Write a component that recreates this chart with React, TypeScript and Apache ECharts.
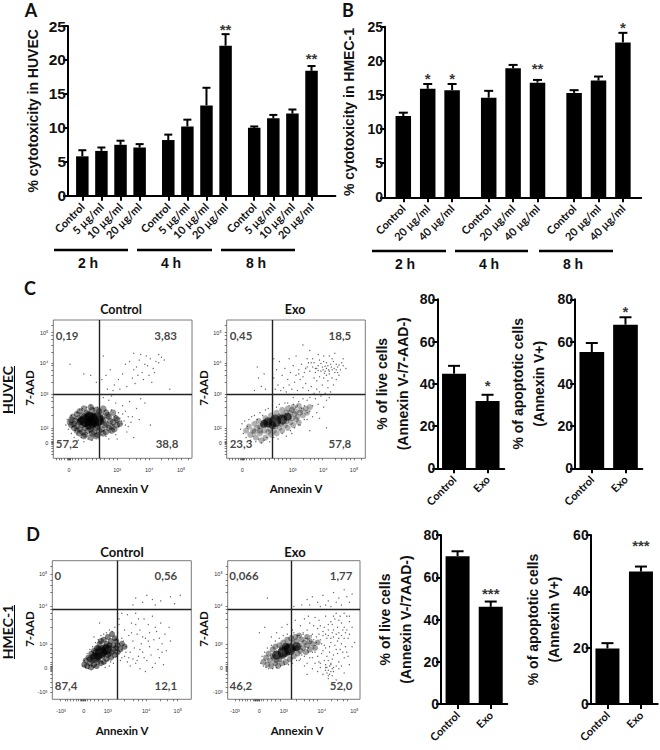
import React, { useEffect, useRef } from "react";
import * as echarts from "echarts";

const SANS = "Liberation Sans";
const CAL = "Lato";

// ---------- bar data ----------
const doseA = ["Control", "5 µg/ml", "10 µg/ml", "20 µg/ml"];
const doseB = ["Control", "20 µg/ml", "40 µg/ml"];
const pair = ["Control", "Exo"];
const hours = ["2 h", "4 h", "8 h"];

const meansA = [5.8, 6.6, 7.5, 7.1, 8.2, 10.2, 13.3, 22.1, 10.0, 11.4, 12.1, 18.4];
const upperA = [6.7, 7.1, 8.1, 7.6, 9.0, 11.2, 15.9, 23.8, 10.2, 11.9, 12.7, 19.1];
const starsA = [null, null, null, null, null, null, null, ["**", 24.7], null, null, null, ["**", 20.3]];

const meansB = [11.9, 15.9, 15.7, 14.6, 18.9, 16.8, 15.3, 17.1, 22.7];
const upperB = [12.4, 16.6, 16.6, 15.6, 19.4, 17.2, 15.7, 17.7, 24.1];
const starsB = [null, ["*", 17.6], ["*", 17.6], null, null, ["**", 19.0], null, null, ["*", 25.0]];

const meansC1 = [44.8, 31.8];
const upperC1 = [48.5, 34.8];
const starsC1 = [null, ["*", 39.5]];
const meansC2 = [55, 68];
const upperC2 = [59.3, 71.5];
const starsC2 = [null, ["*", 74.5]];
const meansD1 = [70, 46];
const upperD1 = [72.3, 48.5];
const starsD1 = [null, ["***", 53]];
const meansD2 = [19.7, 47];
const upperD2 = [21.6, 48.8];
const starsD2 = [null, ["***", 56.5]];

// ---------- flow cytometry data, in display channels 0-100 ----------
const coreCC = [[27, 28, 7], [23, 27, 6], [31, 28, 7], [27, 25, 6], [33, 27, 5], [26, 30, 5], [20, 27, 4]];
const midCC = [[22, 36], [27, 37], [31, 35], [36, 36], [19, 34], [24, 33], [28, 35], [33, 34], [38, 33], [17, 32], [21, 31], [25, 32], [29, 31], [34, 32], [39, 31], [43, 33], [14, 30], [18, 29], [22, 30], [26, 29], [30, 30], [35, 29], [40, 30], [45, 29], [13, 28], [16, 27], [20, 28], [24, 27], [27, 28], [31, 27], [36, 28], [41, 27], [46, 28], [12, 26], [15, 25], [19, 26], [23, 25], [26, 26], [29, 25], [33, 26], [38, 25], [43, 26], [48, 25], [13, 24], [17, 23], [21, 24], [25, 23], [28, 24], [32, 23], [37, 24], [42, 23], [46, 24], [15, 22], [19, 21], [23, 22], [27, 21], [31, 22], [35, 21], [40, 22], [44, 21], [17, 20], [21, 19], [25, 20], [29, 19], [33, 20], [38, 19], [42, 20], [19, 18], [23, 17], [28, 18], [32, 17], [36, 18], [22, 16], [27, 15], [31, 16]];
const dotsCC = [[55, 70], [58, 64], [60, 66], [62, 71], [64, 62], [66, 68], [68, 67], [70, 72], [72, 65], [74, 70], [76, 69], [78, 73], [80, 71], [67, 74], [63, 75], [61, 60], [57, 58], [59, 54], [65, 57], [69, 60], [71, 55], [73, 62], [53, 52], [50, 61], [47, 57], [44, 53], [41, 64], [38, 60], [39, 50], [43, 49], [48, 50], [35, 57], [31, 55], [27, 60], [12, 68], [22, 61], [36, 74], [58, 76], [76, 75], [84, 50], [52, 68],
  [36, 44], [40, 42], [45, 40], [50, 38], [55, 41], [60, 36], [63, 43], [52, 34], [47, 33], [57, 30], [62, 28], [70, 24], [54, 23], [66, 40], [42, 45], [38, 35], [44, 30], [49, 27], [53, 19], [58, 15], [75, 12], [46, 14],
  [9, 24], [10, 28], [11, 21], [12, 26], [13, 18], [13, 31], [14, 23], [15, 29], [15, 15], [16, 20], [17, 33], [17, 17], [18, 13], [19, 35], [20, 15], [21, 36], [22, 12], [23, 17], [24, 37], [25, 14], [26, 19], [27, 38], [28, 13], [29, 36], [30, 16], [31, 18], [32, 37], [33, 14], [34, 35], [35, 17], [36, 20], [37, 34], [38, 16], [39, 22], [40, 33], [41, 19], [42, 35], [43, 24], [44, 21], [45, 31], [46, 26], [47, 23], [48, 29], [49, 25], [50, 32], [51, 27], [52, 24], [45, 17], [40, 14], [54, 30], [56, 26]];

const coreCE = [[30, 26, 5], [35, 27, 6], [40, 28, 5], [33, 24, 4], [27, 25, 4], [44, 30, 4]];
const midCE = [[14, 20], [16, 23], [17, 17], [19, 20], [20, 25], [21, 15], [22, 22], [23, 27], [24, 18], [25, 13], [26, 24], [27, 20], [28, 29], [28, 15], [30, 26], [31, 21], [32, 31], [32, 17], [34, 28], [35, 23], [36, 33], [36, 18], [38, 30], [39, 25], [40, 35], [40, 20], [42, 31], [43, 27], [44, 36], [44, 22], [46, 33], [47, 29], [48, 37], [48, 24], [50, 34], [51, 30], [52, 38], [52, 26], [54, 35], [55, 31], [57, 36], [58, 33], [60, 37], [24, 23], [29, 24], [33, 25], [37, 27], [41, 29], [45, 30], [49, 32], [53, 33], [27, 26], [31, 27], [35, 30], [39, 31], [43, 33], [47, 35], [30, 19], [34, 20], [38, 22], [42, 24], [46, 26], [50, 28], [20, 19], [24, 20]];
const dotsCE = [[72, 65], [68, 63], [75, 68], [78, 62], [80, 66], [70, 70], [66, 67], [64, 62], [62, 66], [74, 61], [77, 70], [82, 64], [84, 67], [86, 65], [81, 60], [79, 57], [76, 58], [73, 56], [70, 58], [67, 59], [65, 56], [63, 58], [60, 63], [58, 66], [56, 62], [54, 68], [52, 64], [50, 60], [48, 67], [46, 62], [44, 57], [42, 65], [40, 60], [38, 70], [36, 64], [34, 58], [37, 53], [41, 51], [45, 53], [49, 55], [53, 57], [57, 54], [61, 52], [65, 50], [69, 53], [73, 51], [77, 53], [75, 48], [71, 47], [67, 48], [63, 47], [59, 49], [55, 51], [51, 49], [47, 50], [43, 48], [39, 49], [35, 50], [70, 74], [66, 75], [62, 72], [74, 74], [78, 76], [84, 72], [58, 72], [50, 74], [45, 72], [34, 72], [22, 66], [23, 58], [25, 52], [20, 49], [27, 61], [28, 50], [60, 78], [55, 82], [72, 60], [69, 66], [67, 71], [71, 63], [73, 67], [76, 64], [79, 68], [83, 69], [65, 65], [61, 69], [71, 66.5], [73.5, 64], [69.5, 64], [75.5, 66], [77.5, 65], [74, 63], [79, 64], [68, 68.5], [66, 63.5], [81, 67.5], [70.5, 61.5], [64, 65], [63, 69], [59, 69], [57, 65], [55, 59], [52, 61], [72, 69], [76, 72], [80, 62],
  [60, 44], [64, 43], [68, 45], [72, 42], [66, 39], [62, 38], [58, 42], [56, 38], [70, 37], [74, 44], [60, 34], [55, 43], [52, 41], [48, 44], [44, 40], [50, 37], [65, 33], [62, 30], [58, 28], [67, 29], [53, 24], [47, 18], [60, 20], [72, 22],
  [10, 21], [11, 25], [12, 18], [13, 27], [14, 15], [15, 23], [16, 28], [17, 13], [18, 30], [19, 16], [20, 31], [21, 12], [22, 28], [23, 14], [24, 33], [25, 11], [26, 31], [27, 13], [28, 35], [29, 15], [30, 36], [31, 12], [33, 38], [34, 15], [36, 37], [37, 14], [38, 39], [40, 18], [42, 40], [43, 16], [45, 38], [46, 20], [48, 39], [49, 22], [51, 38], [52, 24], [54, 36], [56, 28], [58, 33]];

const coreDC = [[31, 30, 5], [35, 34, 6], [39, 36, 5], [33, 31, 4], [41, 39, 3]];
const midDC = [[23, 25], [24, 28], [25, 24], [26, 30], [27, 26], [28, 33], [28, 23], [29, 28], [30, 35], [30, 25], [31, 31], [32, 37], [32, 24], [33, 28], [34, 34], [34, 40], [35, 26], [36, 31], [36, 37], [37, 43], [37, 27], [38, 34], [39, 40], [39, 29], [40, 45], [40, 32], [41, 37], [42, 42], [42, 30], [43, 47], [43, 34], [44, 39], [45, 44], [45, 32], [46, 37], [46, 42], [47, 34], [47, 39], [49, 36], [50, 40], [52, 38], [27, 29], [29, 31], [31, 34], [33, 37], [35, 35], [37, 33], [39, 36], [41, 33], [38, 38], [35, 42], [44, 36]];
const dotsDC = [[72, 72], [65, 70], [78, 71], [68, 75], [60, 73], [85, 74], [92, 75], [58, 68], [88, 69], [74, 68],
  [50, 62], [54, 61], [48, 58], [57, 55], [60, 62], [63, 50], [66, 58], [69, 54], [72, 60], [75, 49], [78, 55], [81, 47], [84, 52], [52, 50], [55, 46], [58, 42], [61, 47], [64, 40], [67, 44], [70, 38], [73, 43], [76, 36], [79, 40], [82, 35], [85, 42], [50, 44], [53, 38], [56, 34], [59, 37], [62, 31], [65, 34], [68, 28], [71, 32], [74, 26], [77, 30], [80, 25], [47, 48], [48, 40], [50, 36], [52, 31], [54, 27], [56, 24], [60, 26], [63, 22], [67, 20], [72, 23], [49, 28], [47, 33], [46, 43], [48, 54], [47, 62], [50, 30], [51, 42], [53, 34], [55, 30], [58, 29], [61, 28], [65, 45], [70, 48], [74, 52], [77, 44], [79, 34], [69, 42], [63, 36], [66, 30], [57, 48], [60, 54], [62, 58],
  [22, 24], [23, 28], [24, 23], [25, 33], [26, 22], [27, 36], [28, 24], [29, 38], [30, 23], [31, 41], [32, 25], [33, 43], [34, 26], [35, 46], [36, 27], [37, 47], [38, 26], [39, 48], [40, 28], [41, 50], [42, 27], [43, 49], [44, 30], [45, 52], [46, 31], [44, 26], [41, 24], [38, 23], [30, 45], [34, 55], [26, 30], [46, 36]];

const coreDE = [[37, 32, 4.5], [42, 34, 5.5], [47, 36, 6], [52, 38, 4.5], [44, 38, 4]];
const midDE = [[27, 27], [29, 30], [30, 25], [31, 33], [32, 28], [33, 24], [34, 36], [35, 30], [36, 26], [36, 38], [37, 33], [38, 24], [39, 39], [39, 29], [40, 35], [41, 26], [42, 41], [42, 31], [43, 37], [44, 27], [45, 43], [45, 33], [46, 39], [47, 29], [48, 44], [48, 35], [49, 41], [50, 31], [51, 45], [51, 37], [52, 42], [53, 33], [54, 46], [54, 39], [55, 35], [56, 43], [57, 37], [58, 41], [59, 34], [60, 45], [60, 39], [62, 42], [62, 36], [64, 40], [66, 37], [68, 41], [34, 31], [37, 28], [40, 31], [43, 33], [46, 34], [49, 36], [52, 37], [41, 37], [45, 38]];
const dotsDE = [[60, 72], [64, 74], [68, 70], [72, 75], [76, 71], [80, 77], [84, 73], [88, 79], [90, 74], [92, 70], [86, 68], [82, 70], [74, 68], [70, 67], [56, 68], [62, 68], [94, 76], [30, 73], [50, 67], [78, 67],
  [58, 58], [62, 55], [66, 59], [70, 53], [74, 60], [78, 56], [82, 62], [86, 55], [90, 60], [94, 52], [60, 50], [64, 47], [68, 51], [72, 46], [76, 50], [80, 45], [84, 48], [88, 44], [92, 47], [96, 41], [62, 42], [66, 39], [70, 43], [74, 37], [78, 41], [82, 36], [86, 40], [90, 34], [94, 38], [64, 34], [68, 31], [72, 35], [76, 28], [80, 32], [84, 27], [88, 30], [92, 25], [62, 30], [66, 26], [70, 23], [74, 25], [80, 20], [84, 22], [88, 19], [76, 15], [72, 18], [82, 14], [68, 20], [64, 22], [60, 26], [56, 32], [58, 24], [54, 28], [60, 18],
  [79, 54], [83, 52], [87, 50], [81, 58], [85, 60], [75, 44], [79, 48], [73, 52], [71, 40], [77, 34], [83, 42], [89, 48], [67, 45], [65, 53], [61, 60], [69, 57], [57, 48], [55, 53], [53, 46], [51, 57], [49, 50], [45, 54], [41, 52], [37, 48], [33, 45], [28, 52], [24, 48], [92, 56],
  [72, 49], [74, 47], [76, 46], [78, 44], [80, 50], [82, 47], [84, 44], [86, 46], [88, 52], [90, 50], [91, 44], [85, 36], [81, 39], [77, 38], [73, 39], [69, 47], [67, 41], [65, 43], [63, 46], [61, 37], [59, 44], [71, 33], [75, 31], [79, 29], [83, 33], [87, 34], [89, 38], [91, 31], [73, 28], [69, 27], [66, 34], [64, 30], [86, 24], [82, 24], [78, 26], [74, 21], [70, 26], [84, 57], [88, 62], [92, 60], [80, 60], [76, 54],
  [75, 23], [76, 21], [77, 24], [78, 20], [79, 22], [77, 18], [75, 19], [79, 17], [78, 25], [76, 17], [74, 23], [80, 23],
  [25, 26], [26, 31], [27, 24], [28, 34], [29, 23], [30, 37], [31, 22], [33, 39], [34, 22], [36, 42], [37, 23], [39, 44], [40, 24], [42, 46], [43, 25], [45, 47], [46, 25], [48, 46], [49, 26], [50, 48], [52, 28], [54, 46], [55, 29], [57, 47], [58, 31], [60, 44], [61, 34], [63, 45], [65, 37]];

const chanCCx = [11.3, 46, 69.1, 92.2];
const chanCEx = [11.3, 47.6, 69.7, 91.9];
const labelsCx = ["0", "10³", "10⁴", "10⁵"];
const chanCy = [11.3, 22.1, 46.5, 68.7, 90.6];
const labelsCy = ["0", "10²", "10³", "10⁴", "10⁵"];
const minorCx = [2, 4, 6, 8, 10, 10.5, 11, 11.3, 11.6, 12, 12.5, 14, 16, 18, 20, 24, 28, 31, 34, 37, 40, 43, 46, 55, 60, 63, 66, 69, 78, 83, 86, 89, 92, 97];
const minorCy = [3, 5, 7, 9, 10.5, 11, 11.3, 11.6, 12, 14, 16, 18, 20, 22, 31, 37, 41, 44, 46.5, 55, 60, 64, 67, 69, 77, 82, 86, 89, 91, 96];

const chanDCx = [6.3, 22.6, 39.9, 67.5, 90.3];
const chanDEx = [5.5, 23.9, 42.4, 71.1, 95.8];
const labelsDx = ["-10³", "0", "10³", "10⁴", "10⁵"];
const chanDy = [5, 22.8, 39.9, 67.3, 90.4];
const labelsDy = ["-10³", "0", "10³", "10⁴", "10⁵"];
const minorDx = [6, 9, 11, 13, 15, 17, 19, 20, 20.5, 21, 21.5, 22, 22.5, 23, 23.5, 24, 25, 27, 30, 33, 36, 40, 52, 58, 62, 65, 67.5, 78, 83, 87, 90];
const minorDy = [5, 9, 12, 15, 18, 20, 21, 22, 22.5, 23, 23.5, 24, 25, 27, 30, 33, 37, 40, 52, 58, 62, 65, 67, 77, 82, 86, 90, 96];

const quadCC = [["0,19", 10, 89], ["3,83", 81, 89], ["57,2", 10, 11], ["38,8", 82, 11]];
const quadCE = [["0,45", 10.3, 89], ["18,5", 81.7, 89], ["23,3", 10.3, 11], ["57,8", 81.7, 11]];
const quadDC = [["0", 4, 89], ["0,56", 81.7, 89], ["87,4", 9.9, 10.3], ["12,1", 81.7, 10.3]];
const quadDE = [["0,066", 12.3, 89], ["1,77", 85.7, 89], ["46,2", 10, 10.3], ["52,0", 85.7, 10.3]];

// ---------- builders ----------
const grids: any[] = [];
const xAxes: any[] = [];
const yAxes: any[] = [];
const series: any[] = [];

function spread(labels: string[], size: number, gap: number) {
  // one empty slot before the first bar, one between bars, "gap" between groups
  const slots: string[] = [""];
  labels.forEach((l, i) => {
    slots.push(l);
    if (i < labels.length - 1) {
      const end = (i + 1) % size === 0;
      for (let k = 0; k < (end ? gap : 1); k++) slots.push("");
    }
  });
  return slots;
}

function barPanel(p: any) {
  const idx = grids.length;
  grids.push({ left: p.left, top: p.top, width: p.width, height: p.height, containLabel: false });
  const slotIdx: number[] = [];
  p.slots.forEach((s: string, i: number) => { if (s) slotIdx.push(i); });
  while (p.slots.length < p.total) p.slots.push("");
  xAxes.push({
    type: "category", gridIndex: idx, data: p.slots, boundaryGap: true,
    axisLine: { show: true, lineStyle: { color: "#000", width: 2 } },
    axisTick: { show: true, alignWithLabel: true, length: 5, interval: (i: number) => !!p.slots[i], lineStyle: { color: "#000", width: 2 } },
    axisLabel: {
      show: true, rotate: 45, interval: (i: number) => !!p.slots[i], margin: 9, fontFamily: CAL, fontWeight: 700,
      fontSize: p.tickFont ?? 11, color: "#111",
    },
    splitLine: { show: false },
  });
  yAxes.push({
    type: "value", gridIndex: idx, min: 0, max: p.max, interval: p.interval,
    axisLine: { show: true, lineStyle: { color: "#000", width: 2 } },
    axisTick: { show: true, length: 5, lineStyle: { color: "#000", width: 2 } },
    axisLabel: { fontFamily: SANS, fontWeight: 700, fontSize: p.yFont ?? 14, color: "#111", margin: 2 },
    splitLine: { show: false },
    name: p.name, nameLocation: "middle", nameGap: p.nameGap,
    nameTextStyle: { fontFamily: SANS, fontWeight: 700, fontSize: p.nameSize ?? 14, color: "#111", lineHeight: 21 },
  });
  const barData = p.slots.map(() => null as any);
  slotIdx.forEach((s, i) => { barData[s] = p.means[i]; });
  series.push({
    type: "bar", xAxisIndex: idx, yAxisIndex: idx, data: barData, barWidth: p.barWidth,
    itemStyle: { color: "#000" }, silent: true,
  });
  series.push({
    type: "custom", xAxisIndex: idx, yAxisIndex: idx, silent: true, clip: false,
    data: slotIdx.map((s, i) => [s, p.means[i], p.uppers[i]]),
    renderItem: (_: any, api: any) => {
      const a = api.coord([api.value(0), api.value(1)]);
      const b = api.coord([api.value(0), api.value(2)]);
      const st = { stroke: "#000", lineWidth: 2 };
      return {
        type: "group",
        children: [
          { type: "line", shape: { x1: a[0], y1: a[1], x2: a[0], y2: b[1] }, style: st },
          { type: "line", shape: { x1: a[0] - p.cap / 2, y1: b[1], x2: a[0] + p.cap / 2, y2: b[1] }, style: st },
        ],
      };
    },
  });
  const starData: any[] = [];
  p.stars.forEach((st: any, i: number) => { if (st) starData.push({ value: [slotIdx[i], st[1]], text: st[0] }); });
  series.push({
    type: "scatter", xAxisIndex: idx, yAxisIndex: idx, symbolSize: 0, clip: false, silent: true,
    data: starData,
    label: {
      show: true, position: "inside", offset: [0, 1], formatter: (d: any) => d.data.text,
      fontFamily: SANS, fontWeight: 700, fontSize: 15, color: "#000", textBorderWidth: 0, textBorderColor: "transparent",
    },
  });
}

function flowPanel(p: any) {
  const idx = grids.length;
  grids.push({ left: p.left, top: p.top, width: p.width, height: p.height, show: true, borderColor: "#7a7a7a", borderWidth: 1 });
  const mkAxis = (chan: number[], labels: string[], minor: number[], margin: number) => ({
    type: "value", gridIndex: idx, min: 0, max: 100,
    axisLine: { show: false },
    splitLine: { show: false },
    axisTick: { show: true, customValues: minor, length: 2, lineStyle: { color: "#444", width: 0.7 } },
    axisLabel: {
      show: true, customValues: chan, margin, fontFamily: SANS, fontSize: 5.5, color: "#333",
      formatter: (v: number) => labels[chan.indexOf(v)] ?? "",
    },
  });
  xAxes.push(mkAxis(p.chanX, p.labelsX, p.minorX, 9));
  yAxes.push(mkAxis(p.chanY, p.labelsY, p.minorY, 5));
  series.push({
    type: "scatter", xAxisIndex: idx, yAxisIndex: idx, silent: true, data: p.mid,
    symbolSize: p.midSize, itemStyle: { color: "#000", opacity: p.midOp },
  });
  series.push({
    type: "scatter", xAxisIndex: idx, yAxisIndex: idx, silent: true, data: p.core,
    symbolSize: (v: number[]) => v[2] * 2,
    itemStyle: { color: "#000", opacity: 0.6 },
  });
  series.push({
    type: "scatter", xAxisIndex: idx, yAxisIndex: idx, silent: true, data: p.dots,
    symbolSize: 1.3, itemStyle: { color: "#000", opacity: 0.62 },
    markLine: {
      silent: true, symbol: "none", label: { show: false }, animation: false,
      lineStyle: { color: "#222", width: 1.4, type: "solid" },
      data: [{ xAxis: p.gateX }, { yAxis: p.gateY }],
    },
  });
  series.push({
    type: "scatter", xAxisIndex: idx, yAxisIndex: idx, silent: true, symbolSize: 0,
    data: p.quad.map((q: any) => ({ value: [q[1], q[2]], text: q[0] })),
    label: {
      show: true, position: "inside", formatter: (d: any) => d.data.text,
      fontFamily: CAL, fontWeight: 700, fontSize: 11.5, color: "#111", textBorderWidth: 0, textBorderColor: "transparent",
    },
  });
}

barPanel({ left: 68, top: 26, width: 267.4, height: 169.7, max: 25, interval: 5, slots: spread([...doseA, ...doseA, ...doseA], 4, 2), total: 28, means: meansA, uppers: upperA, stars: starsA, barWidth: 12.5, cap: 8, yFont: 15.5, name: "% cytotoxicity in HUVEC", nameGap: 25 });
barPanel({ left: 385, top: 26.7, width: 256.2, height: 170.6, max: 25, interval: 5, slots: spread([...doseB, ...doseB, ...doseB], 3, 2), total: 21, means: meansB, uppers: upperB, stars: starsB, barWidth: 15.5, cap: 9, name: "% cytotoxicity in HMEC-1", nameGap: 26 });
barPanel({ left: 437.3, top: 299.3, width: 67, height: 169, max: 80, interval: 20, slots: [...pair], total: 2, means: meansC1, uppers: upperC1, stars: starsC1, barWidth: 24, cap: 12, name: "% of live cells\n(Annexin V-/7-AAD-)", nameGap: 24 });
barPanel({ left: 575, top: 299.3, width: 67.3, height: 169, max: 80, interval: 20, slots: [...pair], total: 2, means: meansC2, uppers: upperC2, stars: starsC2, barWidth: 24.7, cap: 12, name: "% of apoptotic cells\n(Annexin V+)", nameGap: 26 });
barPanel({ left: 441, top: 535, width: 66.3, height: 169, max: 80, interval: 20, slots: [...pair], total: 2, means: meansD1, uppers: upperD1, stars: starsD1, barWidth: 24, cap: 12, name: "% of live cells\n(Annexin V-/7AAD-)", nameGap: 25 });
barPanel({ left: 590.7, top: 535, width: 67, height: 169, max: 60, interval: 20, slots: [...pair], total: 2, means: meansD2, uppers: upperD2, stars: starsD2, barWidth: 24, cap: 12, name: "% of apoptotic cells\n(Annexin V+)", nameGap: 26 });

flowPanel({ left: 53.3, top: 320, width: 138.7, height: 138.3, core: coreCC, mid: midCC, midSize: 6.5, midOp: 0.42, dots: dotsCC, gateX: 33, gateY: 46.5, chanX: chanCCx, labelsX: labelsCx, chanY: chanCy, labelsY: labelsCy, minorX: minorCx, minorY: minorCy, quad: quadCC });
flowPanel({ left: 226.7, top: 320, width: 138.6, height: 138.3, core: coreCE, mid: midCE, midSize: 6, midOp: 0.3, dots: dotsCE, gateX: 33, gateY: 46.5, chanX: chanCEx, labelsX: labelsCx, chanY: chanCy, labelsY: labelsCy, minorX: minorCx, minorY: minorCy, quad: quadCE });
flowPanel({ left: 52.3, top: 560.7, width: 139, height: 138.6, core: coreDC, mid: midDC, midSize: 6, midOp: 0.5, dots: dotsDC, gateX: 46.5, gateY: 64.9, chanX: chanDCx, labelsX: labelsDx, chanY: chanDy, labelsY: labelsDy, minorX: minorDx, minorY: minorDy, quad: quadDC });
flowPanel({ left: 227.7, top: 560.7, width: 132.3, height: 138.6, core: coreDE, mid: midDE, midSize: 6, midOp: 0.38, dots: dotsDE, gateX: 47.8, gateY: 64.9, chanX: chanDEx, labelsX: labelsDx, chanY: chanDy, labelsY: labelsDy, minorX: minorDx, minorY: minorDy, quad: quadDE });

// ---------- annotations ----------
const txt = (text: string, x: number, y: number, fontSize: number, fontFamily = CAL, rotation = 0, fontWeight: any = 700) => ({
  type: "text", x, y, rotation, silent: true,
  style: { text, x: 0, y: 0, fontSize, fontFamily, fontWeight, fill: "#111", align: "center", verticalAlign: "middle" },
});
const rule = (x1: number, y1: number, x2: number, y2: number, lineWidth = 2.4) => ({
  type: "line", silent: true, shape: { x1, y1, x2, y2 }, style: { stroke: "#000", lineWidth },
});
const RIGHT_UP = Math.PI / 2;

const graphics: any[] = [
  txt("A", 31, 10, 18), txt("B", 348, 10, 18), txt("C", 30, 288, 18), txt("D", 33, 534, 18),
  rule(54, 250, 128, 250), rule(137, 250, 212, 250), rule(221, 250, 295, 250),
  txt(hours[0], 88, 263, 14, SANS), txt(hours[1], 171, 263, 14, SANS), txt(hours[2], 256, 263, 14, SANS),
  rule(372, 251, 446, 251), rule(455, 251, 528, 251), rule(539, 251, 613, 251),
  txt(hours[0], 405, 264, 14, SANS), txt(hours[1], 489, 264, 14, SANS), txt(hours[2], 573, 264, 14, SANS),
  txt("Control", 121, 309, 12.5), txt("Exo", 295, 309, 12.5),
  txt("Control", 122, 552, 13), txt("Exo", 295, 552, 13),
  txt("Annexin V", 122, 488, 11.5), txt("Annexin V", 296, 488, 11.5),
  txt("Annexin V", 122, 730, 11.5), txt("Annexin V", 297, 730, 11.5),
  txt("7-AAD", 29, 388, 11.5, CAL, RIGHT_UP), txt("7-AAD", 203, 388, 11.5, CAL, RIGHT_UP),
  txt("7-AAD", 29, 629, 11.5, CAL, RIGHT_UP), txt("7-AAD", 203, 629, 11.5, CAL, RIGHT_UP),
  txt("HUVEC", 7.5, 390, 14, CAL, RIGHT_UP), rule(14.5, 366, 14.5, 414, 1),
  txt("HMEC-1", 7.5, 632, 14, CAL, RIGHT_UP), rule(14.5, 605, 14.5, 659, 1),
];

export default function App() {
  const ref = useRef<HTMLDivElement>(null);
  useEffect(() => {
    const chart = echarts.init(ref.current!, null, { renderer: "svg" });
    chart.setOption({
      animation: false,
      backgroundColor: "#fff",
      grid: grids,
      xAxis: xAxes,
      yAxis: yAxes,
      series,
      graphic: { elements: graphics },
    });
    return () => chart.dispose();
  }, []);
  return <div ref={ref} style={{ position: "absolute", left: 0, top: 0, width: 660, height: 750 }} />;
}
